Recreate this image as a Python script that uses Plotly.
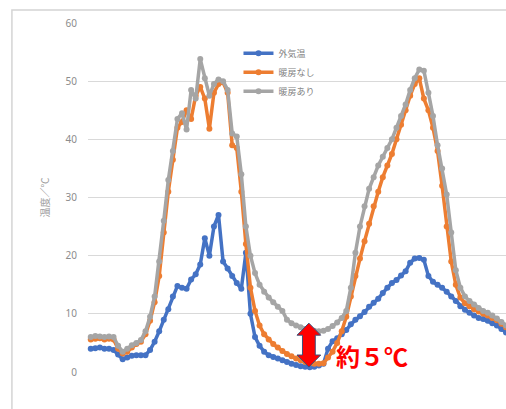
import plotly.graph_objects as go

# elapsed time [h] (half-hour samples)
hours = [i * 0.5 for i in range(92)]

outside = [4.0, 4.1, 4.2, 4.0, 4.0, 3.8, 3.0, 2.2, 2.5, 2.8,
           2.9, 2.9, 2.9, 3.8, 5.2, 7.0, 9.0, 10.8, 13.0, 14.8,
           14.5, 14.3, 15.9, 16.8, 18.5, 23.0, 20.0, 25.0, 27.0, 19.0,
           17.8, 16.5, 15.3, 14.3, 20.5, 10.0, 6.0, 4.5, 3.5, 2.9,
           2.6, 2.3, 2.0, 1.7, 1.4, 1.2, 1.0, 0.9, 0.8, 0.9,
           1.1, 1.4, 4.0, 5.3, 5.8, 6.5, 7.2, 8.2, 9.0, 9.6,
           10.3, 11.2, 11.9, 12.6, 13.6, 14.5, 15.3, 15.8, 16.6, 17.3,
           18.8, 19.5, 19.6, 19.3, 16.5, 15.5, 15.0, 14.5, 13.8, 13.0,
           12.2, 11.3, 10.7, 10.2, 9.7, 9.3, 9.1, 8.8, 8.4, 8.0,
           7.4, 6.8]

no_heat = [5.6, 5.7, 5.8, 5.6, 5.7, 5.6, 4.0, 3.2, 3.5, 4.2,
           4.8, 5.2, 6.5, 8.8, 12.0, 16.5, 24.0, 31.0, 36.5, 42.0,
           43.0, 45.0, 43.5, 47.5, 49.0, 47.0, 41.8, 48.0, 49.5, 49.8,
           48.0, 39.0, 38.5, 31.0, 22.0, 14.5, 10.5, 8.0, 6.5, 5.6,
           4.8, 4.2, 3.6, 3.1, 2.7, 2.3, 2.0, 1.7, 1.5, 1.4,
           1.4, 1.5, 2.5, 3.5, 5.0, 7.0, 9.5, 13.0, 16.5, 19.5,
           22.5, 25.5, 28.5, 31.0, 33.5, 35.5, 37.5, 40.0, 42.5, 45.0,
           47.5, 49.5, 50.5, 47.0, 45.0, 42.0, 38.0, 32.0, 25.0, 19.0,
           15.0, 12.8, 11.8, 11.3, 10.8, 10.4, 10.0, 9.7, 9.3, 8.9,
           8.3, 7.7]

heated = [6.0, 6.2, 6.1, 6.0, 6.1, 6.0, 4.5, 3.5, 4.0, 4.6,
          5.0, 5.5, 7.0, 9.5, 13.0, 19.0, 26.0, 33.0, 38.0, 43.5,
          44.5, 41.7, 48.5, 47.0, 53.8, 50.5, 47.5, 49.5, 50.3, 50.0,
          48.5, 41.0, 40.5, 34.0, 25.0, 20.0, 17.0, 15.0, 13.8, 12.8,
          12.0, 11.2, 10.5, 9.0, 8.4, 8.0, 7.7, 7.4, 7.2, 7.1,
          7.0, 7.1, 7.4, 7.9, 8.5, 9.3, 10.5, 14.5, 20.5, 25.0,
          28.5, 31.5, 33.5, 35.5, 37.0, 38.5, 40.0, 42.0, 44.0, 46.0,
          48.5, 50.5, 52.0, 51.8, 48.0, 44.0, 39.0, 35.0, 30.5, 24.0,
          17.5, 14.5, 13.0, 12.2, 11.6, 11.0, 10.5, 10.2, 9.7, 9.2,
          8.6, 8.0]

series_names = ["外気温", "暖房なし", "暖房あり"]
series_colors = ["#4472C4", "#ED7D31", "#A5A5A5"]
y_ticks = [0, 10, 20, 30, 40, 50, 60]

# annotation: difference at dawn
diff_time = 23.9
diff_low = 0.85
diff_high = 8.4
diff_label = "約５℃"

fig = go.Figure()
for name, vals, col in zip(series_names, [outside, no_heat, heated], series_colors):
    fig.add_trace(go.Scatter(
        x=hours, y=vals, name=name, mode="lines+markers",
        line=dict(color=col, width=3.5),
        marker=dict(color=col, size=6),
        cliponaxis=False,
    ))

# block double arrow
hw, sw, hl = 1.3, 0.7, 2.07
xc, t, b = diff_time, diff_high, diff_low
path = (f"M {xc},{t} L {xc+hw},{t-hl} L {xc+sw},{t-hl} L {xc+sw},{b+hl} "
        f"L {xc+hw},{b+hl} L {xc},{b} L {xc-hw},{b+hl} L {xc-sw},{b+hl} "
        f"L {xc-sw},{t-hl} L {xc-hw},{t-hl} Z")
fig.add_shape(type="path", path=path, xref="x", yref="y",
              fillcolor="#FF0000", line=dict(color="#3A4F7A", width=1), layer="above")

fig.add_annotation(x=diff_time + 2.8, y=2.8, xref="x", yref="y", text=diff_label,
                   showarrow=False, xanchor="left", yanchor="middle",
                   font=dict(family="Noto Sans CJK JP", size=24, color="#FF0000", weight="bold"))

# outer chart frame
fig.add_shape(type="rect", xref="paper", yref="paper",
              x0=-0.182, x1=1.05, y0=-0.2, y1=1.037,
              line=dict(color="#D4D4D4", width=1.5), fillcolor="rgba(0,0,0,0)", layer="below")

fig.update_layout(
    width=506, height=409,
    margin=dict(l=88, r=0, t=23, b=37),
    paper_bgcolor="white", plot_bgcolor="white",
    showlegend=True,
    legend=dict(x=0.36, y=0.955, xanchor="left", yanchor="top",
                bgcolor="rgba(0,0,0,0)", itemwidth=30, tracegroupgap=0,
                font=dict(family="Noto Sans CJK JP", size=9, color="#808080")),
    xaxis=dict(range=[-0.3, 45.5], showgrid=False, zeroline=False,
               showticklabels=False, ticks="", showline=False),
    yaxis=dict(range=[0, 60], tickvals=y_ticks, showgrid=True, gridcolor="#D9D9D9",
               gridwidth=1, zeroline=False, showline=False, ticks="",
               ticklabelstandoff=10,
               tickfont=dict(family="Noto Sans", size=10, color="#8C8C8C"),
               title=dict(text="温度／℃", standoff=14,
                          font=dict(family="Noto Sans CJK JP", size=10, color="#A0A0A0"))),
)

fig.write_html("out.html", config={"displayModeBar": False},
               post_script="document.body.style.margin='0';document.body.style.overflow='hidden';")
